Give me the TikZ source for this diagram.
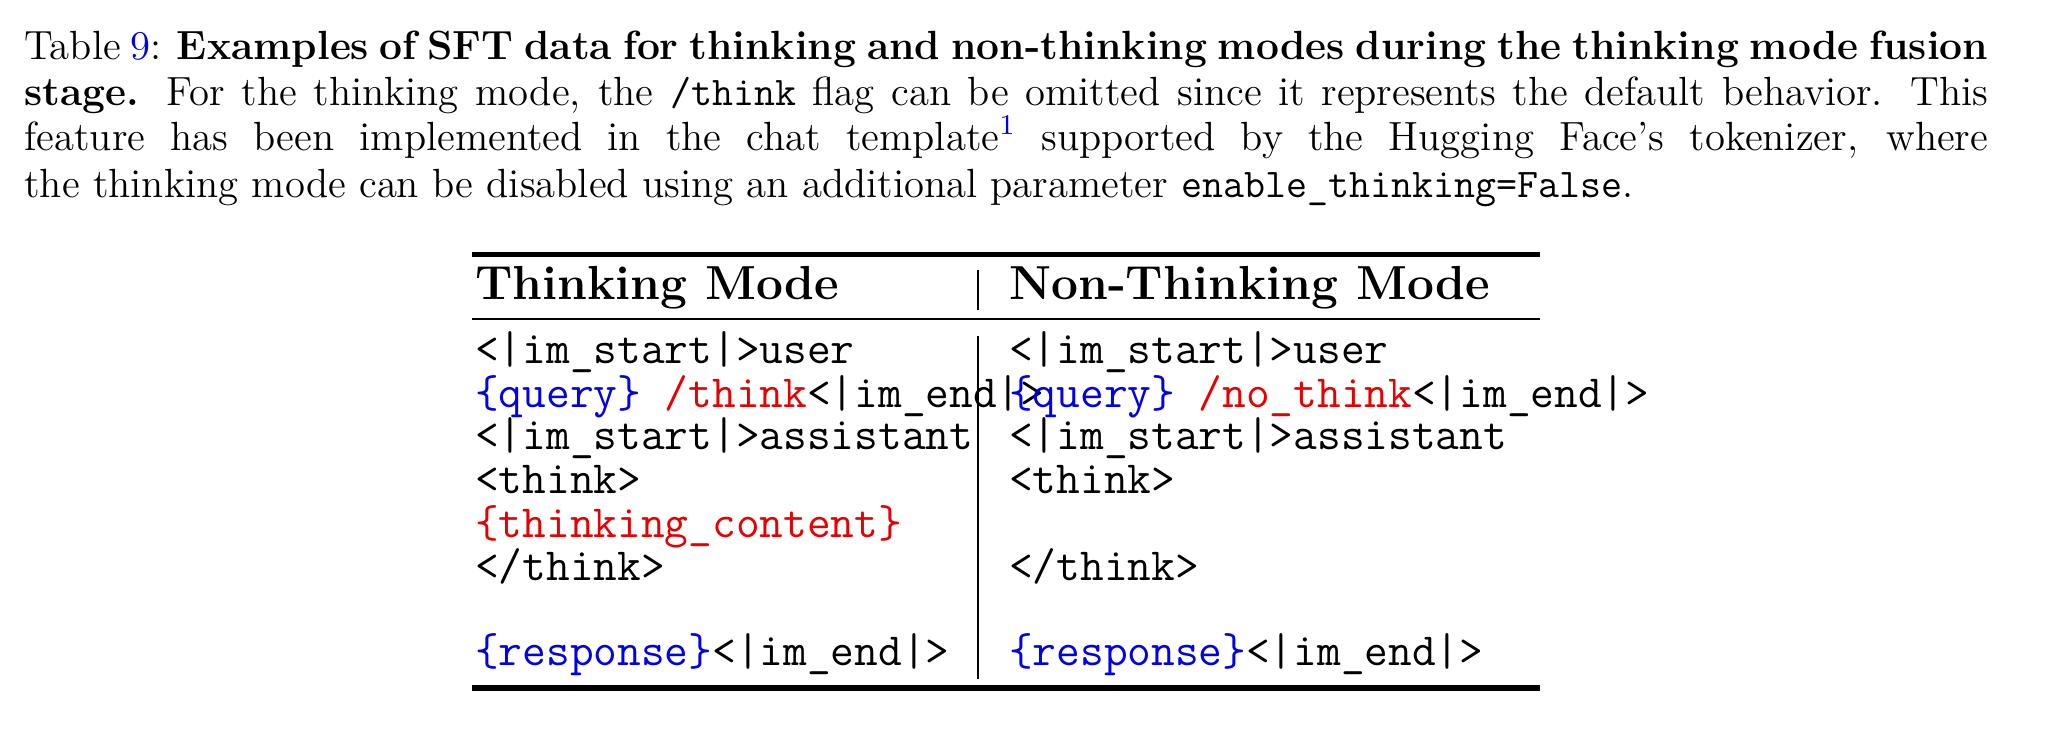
\documentclass[tikz,border=0pt]{standalone}
\usepackage{xcolor}
\definecolor{qblue}{RGB}{0,0,235}
\definecolor{qred}{RGB}{230,0,0}
\newcommand{\jline}[1]{\makebox[19.64cm][s]{#1}}
\begin{document}
\begin{tikzpicture}[x=0.01318cm,y=-0.01318cm,
  captxt/.style={anchor=base west,inner sep=0,font=\fontsize{11.6}{13}\selectfont},
  cell/.style={anchor=base west,inner sep=0,font=\fontsize{13.1}{15}\selectfont\ttfamily},
  head/.style={anchor=base west,inner sep=0,font=\fontsize{13.6}{15}\selectfont\bfseries},
  rule/.style={line width=1.6pt},
  mid/.style={line width=0.6pt}]
\useasboundingbox (0,0) rectangle (1568,555);
\node[captxt] (c1) at (18,45) {\jline{Table {\color{qblue}9}: \textbf{Examples of SFT data for thinking and non-thinking modes during the thinking mode fusion}}};
\node[captxt] (c2) at (18,80) {\jline{\textbf{stage.} For the thinking mode, the \texttt{/think} flag can be omitted since it represents the default behavior. This}};
\node[captxt] (c3) at (18,114) {\jline{feature has been implemented in the chat template\textsuperscript{\color{qblue}1} supported by the Hugging Face's tokenizer, where}};
\node[captxt] (c4) at (18,150) {the thinking mode can be disabled using an additional parameter \texttt{enable\_thinking=False}.};
\draw[rule] (358,193) coordinate (t1) -- (1168,193) coordinate (t2);
\draw[mid] (358,242) coordinate (m1) -- (1168,242) coordinate (m2);
\draw[rule] (358,522) coordinate (b1) -- (1168,522) coordinate (b2);
\draw[mid] (742,205) coordinate (v1) -- (742,235) coordinate (v2);
\draw[mid] (742,255) coordinate (v3) -- (742,515) coordinate (v4);
\node[head] (h1) at (360,227) {Thinking Mode};
\node[head] (h2) at (765,227) {Non-Thinking Mode};
\node[cell] (l1) at (360,276) {<|im\_start|>user};
\node[cell] (l2) at (360,309) {{\color{qblue}\{query\}} {\color{qred}/think}<|im\_end|>};
\node[cell] (l3) at (360,341) {<|im\_start|>assistant};
\node[cell] (l4) at (360,374) {<think>};
\node[cell] (l5) at (360,408) {\color{qred}\{thinking\_content\}};
\node[cell] (l6) at (360,440) {</think>};
\node[cell] (l7) at (360,505) {{\color{qblue}\{response\}}<|im\_end|>};
\node[cell] (r1) at (765,276) {<|im\_start|>user};
\node[cell] (r2) at (765,309) {{\color{qblue}\{query\}} {\color{qred}/no\_think}<|im\_end|>};
\node[cell] (r3) at (765,341) {<|im\_start|>assistant};
\node[cell] (r4) at (765,374) {<think>};
\node[cell] (r6) at (765,440) {</think>};
\node[cell] (r7) at (765,505) {{\color{qblue}\{response\}}<|im\_end|>};
\end{tikzpicture}
\end{document}
